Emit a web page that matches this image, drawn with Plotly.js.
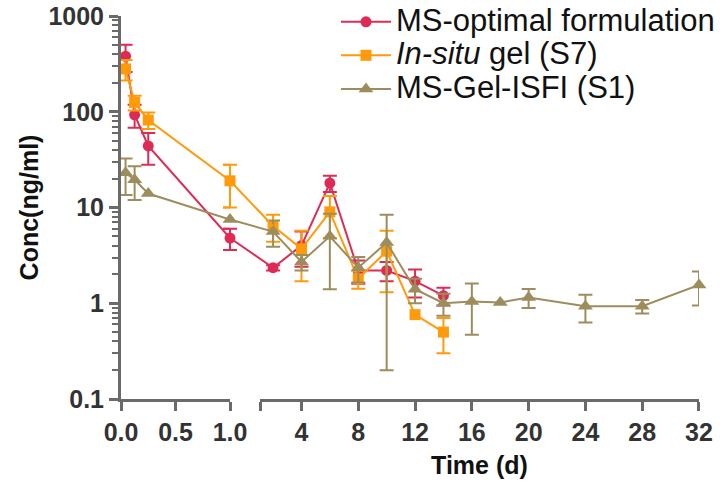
<!DOCTYPE html>
<html>
<head>
<meta charset="utf-8">
<script src="https://cdn.plot.ly/plotly-3.0.1.min.js"></script>
<style>html,body{margin:0;padding:0;background:#fff;}#chart{width:720px;height:488px;}</style>
</head>
<body>
<div id="chart"></div>
<script>
// ---- data (time in days, concentration in ng/ml, SD) ----
const timeRed = [0.0417, 0.125, 0.25, 1, 2, 4, 6, 8, 10, 12, 14];
const concRed = [380, 93, 44, 4.8, 2.35, 4.0, 18, 2.2, 2.2, 1.7, 1.2];
const sdRed   = [120, 25, 16, 1.2, 0.15, 1.6, 3.5, 0.6, 0.5, 0.55, 0.25];

const timeOrange = [0.0417, 0.125, 0.25, 1, 2, 4, 6, 8, 10, 12, 14];
const concOrange = [280, 125, 82, 19, 6.4, 3.7, 9.0, 1.8, 3.5, 0.76, 0.5];
const sdOrange   = [68, 22, 16, 9, 2.0, 2.0, 4.2, 0.38, 2.2, 0.0, 0.2];

const timeOlive = [0.0417, 0.125, 0.25, 1, 2, 4, 6, 8, 10, 12, 14, 16, 18, 20, 24, 28, 32];
const concOlive = [23, 19.5, 14, 7.5, 5.6, 2.7, 5.0, 2.35, 4.3, 1.4, 1.0, 1.04, 1.02, 1.15, 0.93, 0.93, 1.55];
const sdOlive   = [9.5, 7.5, 0, 0, 1.7, 0.5, 3.6, 0.7, 4.1, 0.4, 0.26, 0.57, 0, 0.26, 0.3, 0.15, 0.6];

const seriesNames = ['MS-optimal formulation', '<i>In-situ</i> gel (S7)', 'MS-Gel-ISFI (S1)'];
const seriesColors = ['#DE2B55', '#FF9A0A', '#9E8D5C'];
const seriesSymbols = ['circle', 'square', 'triangle-up'];

const leftTickVals = [0, 0.5, 1];
const leftTickText = ['0.0', '0.5', '1.0'];
const rightTickVals = [4, 8, 12, 16, 20, 24, 28, 32];
const rightTickText = ['4', '8', '12', '16', '20', '24', '28', '32'];
const yTickVals = [0.1, 1, 10, 100, 1000];
const yTickText = ['0.1', '1', '10', '100', '1000'];

// ---- broken-axis layout ----
const leftRange = [0, 1];
const rightRange = [1.08, 32];
const leftDomain = [0, 0.1886];
const rightDomain = [0.2405, 1];
const BREAK = 1;   // last time on the left segment
const RESUME = 2;  // first time on the right segment
function rightFrac(t) {
  return rightDomain[0] + (t - rightRange[0]) / (rightRange[1] - rightRange[0]) * (rightDomain[1] - rightDomain[0]);
}
// bridge axis: linear between the BREAK position (left axis end) and the RESUME position on the right axis
const bridgeUnit = rightFrac(RESUME) - leftDomain[1];
const bridgePad = 0.25;
const bridgeDomain = [leftDomain[1] - bridgePad * bridgeUnit, rightFrac(RESUME) + bridgePad * bridgeUnit];
const bridgeRange = [BREAK - bridgePad, RESUME + bridgePad];

// minor log ticks (2..9 in each decade)
const minorVals = [];
for (let e = -1; e < 3; e++) for (let m = 2; m <= 9; m++) minorVals.push(m * Math.pow(10, e));

const all = [
  {t: timeRed, c: concRed, s: sdRed},
  {t: timeOrange, c: concOrange, s: sdOrange},
  {t: timeOlive, c: concOlive, s: sdOlive}
];
const errOrNaN = v => (v > 0 ? v : NaN);

const bridges = [], mains = [];
all.forEach((d, i) => {
  const col = seriesColors[i];
  const common = {
    type: 'scatter', mode: 'lines+markers', cliponaxis: false,
    line: {color: col, width: 2},
    marker: {symbol: seriesSymbols[i], color: col, size: i === 2 ? 13 : 11},
    legendgroup: 'g' + i,
    name: '<span style="font-size:31px">' + seriesNames[i] + '</span>'
  };
  const L = d.t.map((t, k) => k).filter(k => d.t[k] <= BREAK);
  const R = d.t.map((t, k) => k).filter(k => d.t[k] >= RESUME);
  mains.push(Object.assign({}, common, {
    x: L.map(k => d.t[k]), y: L.map(k => d.c[k]), xaxis: 'x', yaxis: 'y', showlegend: true,
    error_y: {type: 'data', array: L.map(k => errOrNaN(d.s[k])), color: col, thickness: 2, width: 7, visible: true}
  }));
  mains.push(Object.assign({}, common, {
    x: R.map(k => d.t[k]), y: R.map(k => d.c[k]), xaxis: 'x2', yaxis: 'y', showlegend: false,
    error_y: {type: 'data', array: R.map(k => errOrNaN(d.s[k])), color: col, thickness: 2, width: 7, visible: true}
  }));
  // line bridging the axis break (also carries the full error bar of the BREAK point)
  const kb = d.t.indexOf(BREAK), kr = d.t.indexOf(RESUME);
  bridges.push({
    type: 'scatter', mode: 'lines', x: [d.t[kb], d.t[kr]], y: [d.c[kb], d.c[kr]],
    xaxis: 'x3', yaxis: 'y', line: {color: col, width: 2}, showlegend: false, hoverinfo: 'skip',
    error_y: {type: 'data', array: [errOrNaN(d.s[kb]), NaN], color: col, thickness: 2, width: 7, visible: true}
  });
});
const traces = bridges.concat(mains);

const axisCol = '#6a6a6a';
const FONT = 'Liberation Sans, Arial, sans-serif';
const tickFont = {family: FONT, size: 25, color: '#333333', weight: 'bold'};
const xCommon = {
  type: 'linear', anchor: 'y', showline: true, linecolor: axisCol, linewidth: 3,
  ticks: 'outside', ticklen: 9, tickwidth: 3, tickcolor: axisCol,
  showgrid: false, zeroline: false, tickfont: tickFont, tickmode: 'array'
};

const H = 488 - 89; // plot area height with zero top margin
const layout = {
  width: 720, height: 488,
  margin: {l: 121, r: 21, t: 0, b: 89},
  paper_bgcolor: '#ffffff', plot_bgcolor: 'rgba(0,0,0,0)',
  showlegend: true,
  legend: {
    x: 0.372, y: 1, xanchor: 'left', yanchor: 'top',
    font: {family: FONT, size: 23.5, color: '#111111'},
    bgcolor: 'rgba(0,0,0,0)', itemwidth: 50, tracegroupgap: 0, traceorder: 'normal'
  },
  xaxis: Object.assign({}, xCommon, {
    domain: leftDomain, range: leftRange, tickvals: leftTickVals, ticktext: leftTickText
  }),
  xaxis2: Object.assign({}, xCommon, {
    domain: rightDomain, range: rightRange,
    tickvals: [rightRange[0]].concat(rightTickVals), ticktext: [''].concat(rightTickText),
    title: {text: 'Time (d)', standoff: 12,
      font: {family: FONT, size: 25, color: '#111111', weight: 'bold'}}
  }),
  xaxis3: {
    domain: bridgeDomain, range: bridgeRange, anchor: 'y', visible: false,
    showgrid: false, zeroline: false
  },
  yaxis: {
    type: 'log', range: [-1, 3], domain: [0, (H - 16) / H],
    showline: true, linecolor: axisCol, linewidth: 3,
    ticks: 'outside', ticklen: 9, tickwidth: 3, tickcolor: axisCol,
    tickmode: 'array', tickvals: yTickVals, ticktext: yTickText, tickfont: tickFont,
    minor: {tickmode: 'array', tickvals: minorVals, ticks: 'outside', ticklen: 6, tickwidth: 2, tickcolor: axisCol, showgrid: false},
    showgrid: false, zeroline: false,
    title: {text: 'Conc(ng/ml)', standoff: 3,
      font: {family: FONT, size: 25, color: '#111111', weight: 'bold'}}
  }
};

Plotly.newPlot('chart', traces, layout, {staticPlot: true, displayModeBar: false});
</script>
</body>
</html>
